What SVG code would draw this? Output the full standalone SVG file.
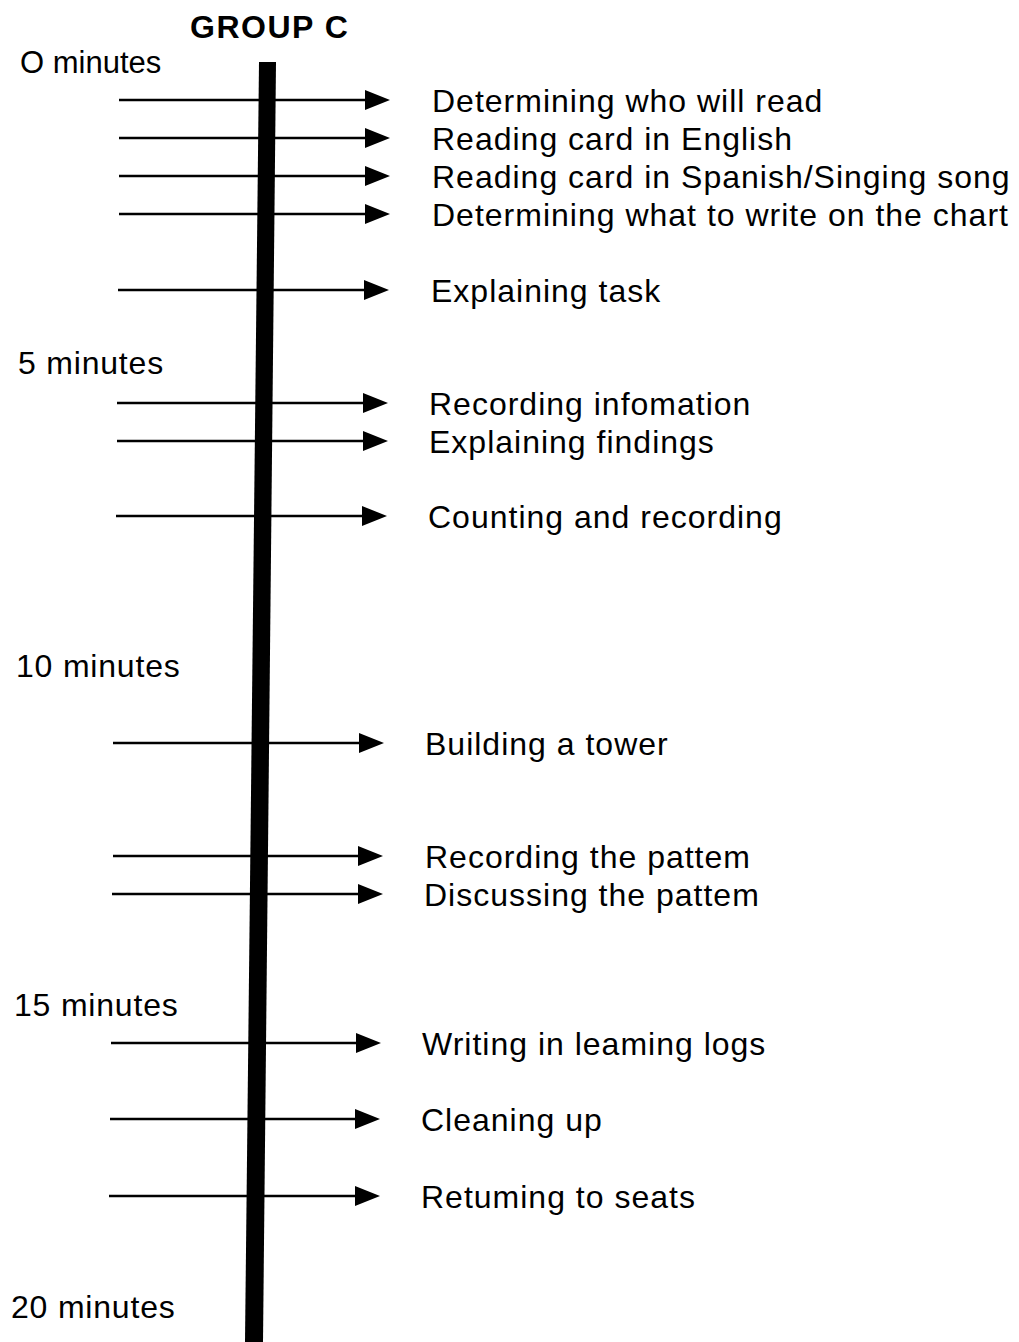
<svg xmlns="http://www.w3.org/2000/svg" width="1019" height="1342" viewBox="0 0 1019 1342">
  <style>
    text { font-family: "Liberation Sans", Arial, sans-serif; fill: #000; }
    .title { font-size: 32px; font-weight: bold; letter-spacing: 1.5px; }
    .time { font-size: 32px; letter-spacing: 0.8px; }
    .act { font-size: 32px; letter-spacing: 1px; }
    .arrow { stroke: #000; stroke-width: 2.7; fill: none; marker-end: url(#head); }
  </style>
  <defs>
    <marker id="head" markerUnits="userSpaceOnUse" markerWidth="26" markerHeight="22" refX="2" refY="10" orient="auto">
      <path d="M0,0 L25,10 L0,20 z" fill="#000"/>
    </marker>
  </defs>
  <rect width="1019" height="1342" fill="#fff"/>

  <g id="title">
    <text class="title" x="190" y="38">GROUP C</text>
  </g>

  <!-- time scale labels -->
  <g id="times">
    <text class="time" x="20" y="73" style="font-size:31px;letter-spacing:0">O minutes</text>
    <text class="time" x="18" y="374">5 minutes</text>
    <text class="time" x="16" y="677">10 minutes</text>
    <text class="time" x="14" y="1016">15 minutes</text>
    <text class="time" x="11" y="1318">20 minutes</text>
  </g>

  <!-- connectors: each activity arrow crosses the timeline -->
  <g id="connectors">
    <line class="arrow" x1="119" y1="100" x2="367" y2="100"/>
    <line class="arrow" x1="119" y1="138" x2="367" y2="138"/>
    <line class="arrow" x1="119" y1="176" x2="367" y2="176"/>
    <line class="arrow" x1="119" y1="214" x2="367" y2="214"/>
    <line class="arrow" x1="118" y1="290" x2="366" y2="290"/>
    <line class="arrow" x1="117" y1="403" x2="365" y2="403"/>
    <line class="arrow" x1="117" y1="441" x2="365" y2="441"/>
    <line class="arrow" x1="116" y1="516" x2="364" y2="516"/>
    <line class="arrow" x1="113" y1="743" x2="361" y2="743"/>
    <line class="arrow" x1="113" y1="856" x2="360" y2="856"/>
    <line class="arrow" x1="112" y1="894" x2="360" y2="894"/>
    <line class="arrow" x1="111" y1="1043" x2="358" y2="1043"/>
    <line class="arrow" x1="110" y1="1119" x2="357" y2="1119"/>
    <line class="arrow" x1="109" y1="1196" x2="357" y2="1196"/>
  </g>

  <!-- the timeline bar -->
  <g id="timeline">
    <polygon points="259,62 276,62 263,1342 245,1342" fill="#000"/>
  </g>

  <!-- activity labels -->
  <g id="activities">
    <g id="a1"><text class="act" x="432" y="112">Determining who will read</text></g>
    <g id="a2"><text class="act" x="432" y="150">Reading card in English</text></g>
    <g id="a3"><text class="act" x="432" y="188">Reading card in Spanish/Singing song</text></g>
    <g id="a4"><text class="act" x="432" y="226">Determining what to write on the chart</text></g>
    <g id="a5"><text class="act" x="431" y="302">Explaining task</text></g>
    <g id="a6"><text class="act" x="429" y="415">Recording infomation</text></g>
    <g id="a7"><text class="act" x="429" y="453">Explaining findings</text></g>
    <g id="a8"><text class="act" x="428" y="528">Counting and recording</text></g>
    <g id="a9"><text class="act" x="425" y="755">Building a tower</text></g>
    <g id="a10"><text class="act" x="425" y="868">Recording the pattem</text></g>
    <g id="a11"><text class="act" x="424" y="906">Discussing the pattem</text></g>
    <g id="a12"><text class="act" x="422" y="1055">Writing in leaming logs</text></g>
    <g id="a13"><text class="act" x="421" y="1131">Cleaning up</text></g>
    <g id="a14"><text class="act" x="421" y="1208">Retuming to seats</text></g>
  </g>
</svg>
